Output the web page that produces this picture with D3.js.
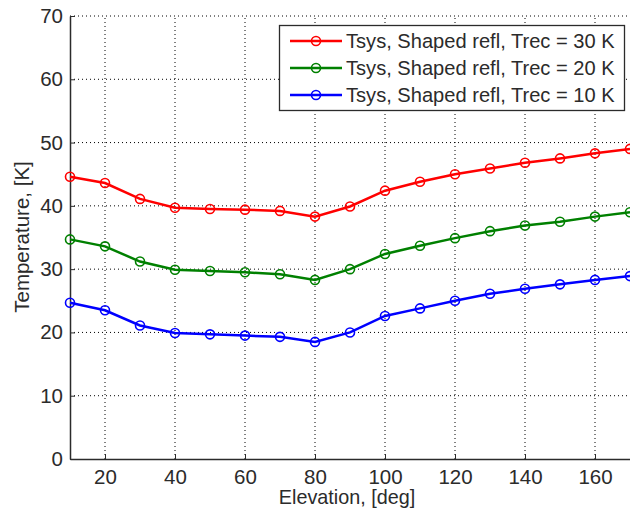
<!DOCTYPE html>
<html><head><meta charset="utf-8">
<script src="https://cdn.jsdelivr.net/npm/d3@7"></script>
<style>body{margin:0;background:#fff}svg{display:block}text{font-family:"Liberation Sans",Arial,sans-serif;fill:#2b2b2b}</style>
</head><body><svg id="c" width="630" height="514"></svg>
<script>
const elevation = [10,20,30,40,50,60,70,80,90,100,110,120,130,140,150,160,170];
const trec30 = [44.6,43.6,41.1,39.7,39.5,39.4,39.2,38.3,39.9,42.4,43.8,45.0,45.9,46.8,47.5,48.3,49.0];
const trec20 = [34.7,33.6,31.2,29.9,29.7,29.5,29.2,28.3,30.0,32.4,33.7,34.9,36.0,36.9,37.5,38.3,39.0];
const trec10 = [24.7,23.5,21.1,19.9,19.7,19.5,19.3,18.5,20.0,22.6,23.8,25.0,26.1,26.9,27.6,28.3,28.9];
const seriesNames = ["Tsys, Shaped refl, Trec = 30 K","Tsys, Shaped refl, Trec = 20 K","Tsys, Shaped refl, Trec = 10 K"];
const seriesColors = ["#ff0000","#008000","#0000ff"];
const xTicks = [20,40,60,80,100,120,140,160];
const yTicks = [0,10,20,30,40,50,60,70];
const xLabel = "Elevation, [deg]";
const yLabel = "Temperature, [K]";

const svg = d3.select("#c");
const x = d3.scaleLinear().domain([10,170]).range([70,630]);
const y = d3.scaleLinear().domain([0,70]).range([459,16]);

// grid
const g = svg.append("g");
g.selectAll("line.gx").data(xTicks).join("line")
  .attr("x1",d=>x(d)).attr("x2",d=>x(d)).attr("y1",y(0)).attr("y2",y(70))
  .attr("stroke","#000").attr("stroke-width",1).attr("stroke-dasharray","1,3");
g.selectAll("line.gy").data(yTicks.filter(d=>d>0)).join("line")
  .attr("x1",x(10)).attr("x2",x(170)).attr("y1",d=>y(d)).attr("y2",d=>y(d))
  .attr("stroke","#000").attr("stroke-width",1).attr("stroke-dasharray","1,3");

// axes
const xa = svg.append("g").attr("transform",`translate(0,${y(0)})`)
  .call(d3.axisBottom(x).tickValues(xTicks).tickSizeInner(-5).tickSizeOuter(0).tickPadding(10));
const ya = svg.append("g").attr("transform",`translate(${x(10)},0)`)
  .call(d3.axisLeft(y).tickValues(yTicks).tickSizeInner(-5).tickSizeOuter(0).tickPadding(7));
[xa,ya].forEach(a=>{
  a.select(".domain").attr("stroke","#2b2b2b").attr("stroke-width",1.5);
  a.selectAll(".tick line").attr("stroke","#2b2b2b");
  a.selectAll(".tick text").attr("font-size",20.5).style("fill","#2b2b2b");
});

// lines
const series = [trec30,trec20,trec10];
const line = d3.line().x((d,i)=>x(elevation[i])).y(d=>y(d));
series.forEach((s,k)=>{
  svg.append("path").datum(s).attr("d",line).attr("fill","none")
    .attr("stroke",seriesColors[k]).attr("stroke-width",2.5);
  svg.selectAll(null).data(s).join("circle")
    .attr("cx",(d,i)=>x(elevation[i])).attr("cy",d=>y(d)).attr("r",4.5)
    .attr("fill","none").attr("stroke",seriesColors[k]).attr("stroke-width",1.6);
});

// legend
const lg = svg.append("g");
lg.append("rect").attr("x",279.5).attr("y",25.5).attr("width",345).attr("height",85)
  .attr("fill","#fff").attr("stroke","#2b2b2b").attr("stroke-width",1.3);
const rowY = [41,68,95];
seriesNames.forEach((n,k)=>{
  lg.append("line").attr("x1",290).attr("x2",342).attr("y1",rowY[k]).attr("y2",rowY[k])
    .attr("stroke",seriesColors[k]).attr("stroke-width",2.5);
  lg.append("circle").attr("cx",316).attr("cy",rowY[k]).attr("r",4.5)
    .attr("fill","none").attr("stroke",seriesColors[k]).attr("stroke-width",1.6);
  lg.append("text").attr("x",346).attr("y",rowY[k]).attr("dy","0.36em")
    .attr("font-size",20.1).text(n);
});

// labels
svg.append("text").attr("x",347).attr("y",504).attr("text-anchor","middle")
  .attr("font-size",19.8).text(xLabel);
svg.append("text").attr("transform","translate(29,237) rotate(-90)").attr("text-anchor","middle")
  .attr("font-size",20.5).text(yLabel);
</script></body></html>
